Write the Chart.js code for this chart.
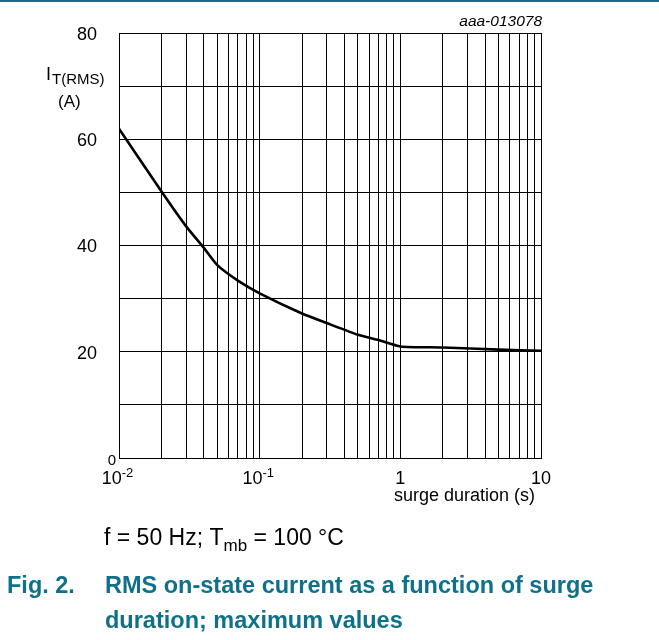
<!DOCTYPE html>
<html>
<head>
<meta charset="utf-8">
<script src="https://cdn.jsdelivr.net/npm/chart.js@4"></script>
<style>
  body { margin: 0; background: #fff; }
  #wrap { position: relative; width: 659px; height: 640px; }
</style>
</head>
<body>
<div id="wrap"><canvas id="surgeChart" width="659" height="640"></canvas></div>
<script>
// surge duration (s) vs RMS on-state current (A)
const durations = [0.01, 0.02, 0.03, 0.04, 0.05, 0.07, 0.1, 0.2, 0.3, 0.5, 0.7, 1, 2, 5, 10];
const currents  = [62.0, 50.2, 43.6, 39.6, 36.3, 33.4, 31.0, 27.2, 25.4, 23.2, 22.2, 21.0, 20.8, 20.4, 20.2];

// log grid: 1..9 in each decade
const xGridValues = [
  0.01, 0.02, 0.03, 0.04, 0.05, 0.06, 0.07, 0.08, 0.09,
  0.1, 0.2, 0.3, 0.4, 0.5, 0.6, 0.7, 0.8, 0.9,
  1, 2, 3, 4, 5, 6, 7, 8, 9, 10
];
const xLabelValues = [0.01, 0.1, 1, 10];
const xLabelBase   = ['10', '10', '1', '10'];
const xLabelExp    = ['-2', '-1', '', ''];
const yLabelValues = [80, 60, 40, 20];

const FONT = '"Liberation Sans", Arial, sans-serif';
const TEAL = '#0f7189';

const textPlugin = {
  id: 'datasheetText',
  afterDraw(chart) {
    const ctx = chart.ctx;
    const xs = chart.scales.x;
    const ys = chart.scales.y;
    ctx.save();
    ctx.fillStyle = '#000';

    // y tick labels
    ctx.font = '18px ' + FONT;
    ctx.textAlign = 'right';
    ctx.textBaseline = 'middle';
    yLabelValues.forEach(v => {
      ctx.fillText(String(v), 97, ys.getPixelForValue(v) + 2);
    });
    ctx.font = '15px ' + FONT;
    ctx.fillText('0', 116, ys.getPixelForValue(0) + 3);

    // x tick labels with exponents
    ctx.textBaseline = 'alphabetic';
    ctx.textAlign = 'left';
    xLabelValues.forEach((v, i) => {
      ctx.font = '18px ' + FONT;
      const bw = ctx.measureText(xLabelBase[i]).width;
      ctx.font = '13px ' + FONT;
      const ew = xLabelExp[i] ? ctx.measureText(xLabelExp[i]).width : 0;
      const x0 = xs.getPixelForValue(v) - (bw + ew) / 2 - (ew ? 1.5 : 0);
      ctx.font = '18px ' + FONT;
      ctx.fillText(xLabelBase[i], x0, 484);
      if (xLabelExp[i]) {
        ctx.font = '13px ' + FONT;
        ctx.fillText(xLabelExp[i], x0 + bw, 477);
      }
    });

    // x axis title
    ctx.font = '18px ' + FONT;
    ctx.textAlign = 'right';
    ctx.fillText('surge duration (s)', 535, 501);

    // y axis title
    ctx.textAlign = 'left';
    ctx.font = '18px ' + FONT;
    ctx.fillText('I', 46, 80);
    ctx.font = '15px ' + FONT;
    ctx.fillText('T(RMS)', 52, 84);
    ctx.font = '17px ' + FONT;
    ctx.fillText('(A)', 58, 107);

    // figure code
    ctx.font = 'italic 15.5px ' + FONT;
    ctx.textAlign = 'right';
    ctx.fillText('aaa-013078', 542, 26);

    // condition line
    ctx.textAlign = 'left';
    ctx.font = '23px ' + FONT;
    let x = 104;
    const part1 = 'f = 50 Hz; T';
    ctx.fillText(part1, x, 545);
    x += ctx.measureText(part1).width;
    ctx.font = '17px ' + FONT;
    ctx.fillText('mb', x, 551);
    x += ctx.measureText('mb').width;
    ctx.font = '23px ' + FONT;
    ctx.fillText(' = 100 \u00B0C', x, 545);

    // caption
    ctx.fillStyle = TEAL;
    ctx.font = 'bold 23.5px ' + FONT;
    ctx.fillText('Fig. 2.', 7, 593);
    ctx.fillText('RMS on-state current as a function of surge', 105, 593);
    ctx.fillText('duration; maximum values', 105, 628);

    // top rule
    ctx.fillStyle = '#1d6a87';
    ctx.fillRect(0, 0, 659, 2);
    ctx.restore();
  }
};

const ctx = document.getElementById('surgeChart');
new Chart(ctx, {
  type: 'line',
  data: {
    datasets: [{
      data: durations.map((d, i) => ({ x: d, y: currents[i] })),
      borderColor: '#000',
      borderWidth: 2.6,
      pointRadius: 0,
      tension: 0.2,
      fill: false
    }]
  },
  options: {
    responsive: false,
    animation: false,
    layout: { padding: { left: 119, top: 33, right: 118, bottom: 182 } },
    plugins: { legend: { display: false }, tooltip: { enabled: false } },
    scales: {
      x: {
        type: 'logarithmic',
        min: 0.01,
        max: 10,
        afterBuildTicks: scale => { scale.ticks = xGridValues.map(v => ({ value: v })); },
        ticks: { display: false },
        grid: { color: '#000', lineWidth: 1, drawTicks: false },
        border: { display: true, color: '#000', width: 1 }
      },
      y: {
        type: 'linear',
        min: 0,
        max: 80,
        ticks: { display: false, stepSize: 10 },
        grid: { color: '#000', lineWidth: 1, drawTicks: false },
        border: { display: true, color: '#000', width: 1 }
      }
    }
  },
  plugins: [textPlugin]
});
</script>
</body>
</html>
